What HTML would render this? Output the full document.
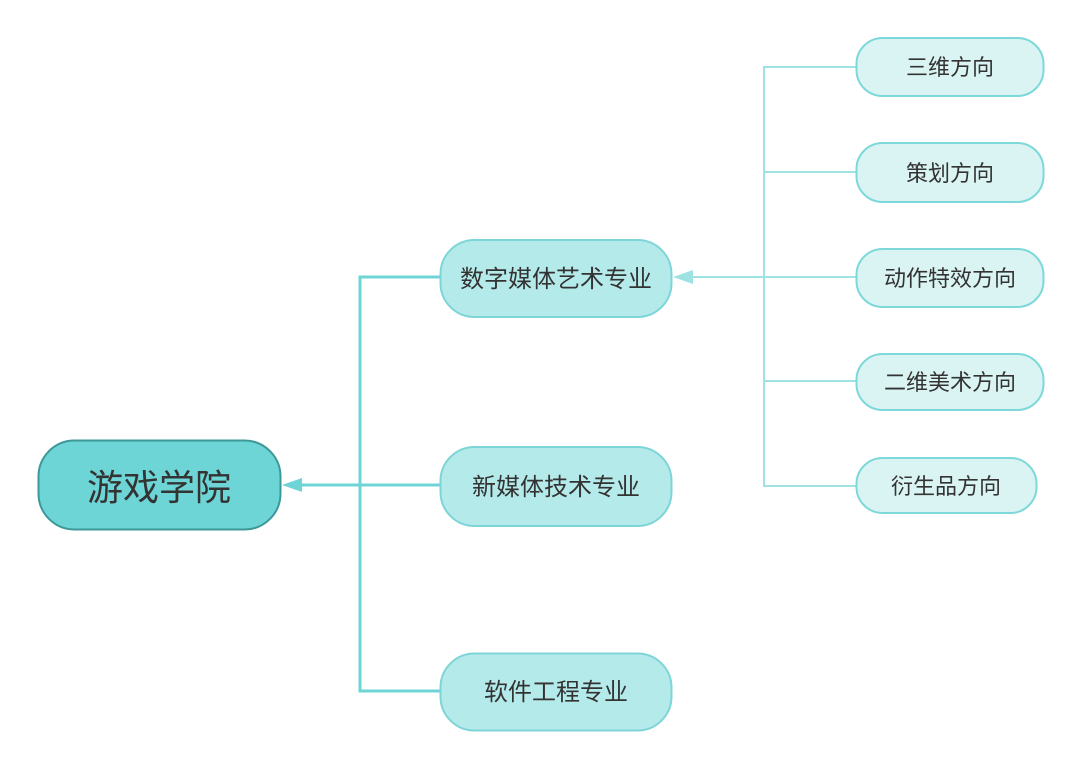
<!DOCTYPE html>
<html><head><meta charset="utf-8"><style>
html,body{margin:0;padding:0;background:#fff;}
svg{display:block;}
text{font-family:"Liberation Sans","Noto Sans CJK SC",sans-serif;fill:#333;}
</style></head><body>
<svg width="1081" height="767" viewBox="0 0 1081 767" xmlns="http://www.w3.org/2000/svg">
<!-- level1 connectors -->
<g stroke="#6fd4d6" stroke-width="3" fill="none">
<line x1="360" y1="277" x2="360" y2="691"/>
<line x1="358.5" y1="277" x2="441" y2="277"/>
<line x1="358.5" y1="691" x2="441" y2="691"/>
<line x1="300" y1="485" x2="441" y2="485"/>
</g>
<polygon points="282,485 302,478 302,492" fill="#6fd4d6"/>
<!-- level2 connectors -->
<g stroke="#9fe2e3" stroke-width="2" fill="none">
<line x1="764" y1="67" x2="764" y2="486"/>
<line x1="763" y1="67" x2="857" y2="67"/>
<line x1="764" y1="172" x2="857" y2="172"/>
<line x1="690" y1="277" x2="857" y2="277"/>
<line x1="764" y1="381" x2="857" y2="381"/>
<line x1="763" y1="486" x2="857" y2="486"/>
</g>
<polygon points="673,277 693,270 693,284" fill="#9fe2e3"/>
<!-- root -->
<rect x="38.5" y="440.5" width="242" height="89" rx="36" fill="#6dd5d6" stroke="#3d9898" stroke-width="2"/>
<text x="159" y="500" font-size="36" text-anchor="middle">游戏学院</text>
<!-- level1 -->
<g fill="#b5eaea" stroke="#7dd5d8" stroke-width="2">
<rect x="440.5" y="240" width="231" height="77" rx="34"/>
<rect x="440.5" y="447" width="231" height="79" rx="34"/>
<rect x="440.5" y="653.5" width="231" height="77" rx="34"/>
</g>
<text x="556" y="287" font-size="24" text-anchor="middle">数字媒体艺术专业</text>
<text x="556" y="495" font-size="24" text-anchor="middle">新媒体技术专业</text>
<text x="556" y="700" font-size="24" text-anchor="middle">软件工程专业</text>
<!-- level2 -->
<g fill="#daf4f3" stroke="#7dd8d9" stroke-width="2">
<rect x="856.5" y="38" width="187" height="58" rx="26"/>
<rect x="856.5" y="143" width="187" height="59" rx="26"/>
<rect x="856.5" y="249" width="187" height="58" rx="26"/>
<rect x="856.5" y="354" width="187" height="56" rx="26"/>
<rect x="856.5" y="458" width="180" height="55" rx="26"/>
</g>
<text x="950" y="75" font-size="22" text-anchor="middle">三维方向</text>
<text x="950" y="181" font-size="22" text-anchor="middle">策划方向</text>
<text x="950" y="286" font-size="22" text-anchor="middle">动作特效方向</text>
<text x="950" y="390" font-size="22" text-anchor="middle">二维美术方向</text>
<text x="946" y="494" font-size="22" text-anchor="middle">衍生品方向</text>
</svg>
</body></html>
